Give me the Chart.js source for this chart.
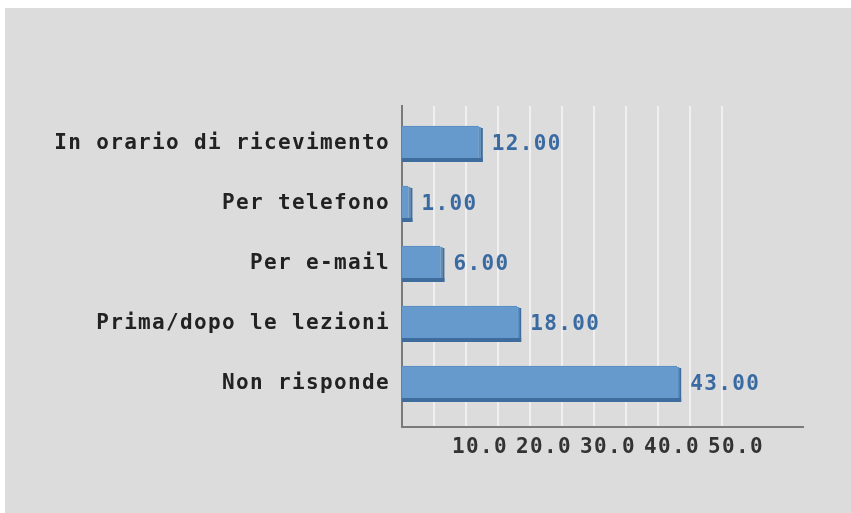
<!DOCTYPE html>
<html>
<head>
<meta charset="utf-8">
<script src="https://cdn.jsdelivr.net/npm/chart.js@4"></script>
<style>
  html, body { margin: 0; padding: 0; background: #ffffff; }
  #bg { position: absolute; left: 5px; top: 8px; right: 0; bottom: 0; background: #dcdcdc; }
  #wrap { position: absolute; left: 0; top: 0; width: 851px; height: 513px; }
</style>
</head>
<body>
<div id="bg"></div>
<div id="wrap"><canvas id="c" width="851" height="513"></canvas></div>
<script>
const categories = ["In orario di ricevimento", "Per telefono", "Per e-mail", "Prima/dopo le lezioni", "Non risponde"];
const values = [12, 1, 6, 18, 43];
const xTickValues = [5, 10, 15, 20, 25, 30, 35, 40, 45, 50];
const xLabelValues = [10, 20, 30, 40, 50];

const FONT = { family: "'DejaVu Sans Mono', 'Liberation Mono', monospace", size: 21, weight: 'bold' };
const SPACING = '1.35px';

const spacingPlugin = {
  id: 'spacing',
  beforeLayout(chart) { chart.ctx.letterSpacing = SPACING; },
  beforeDraw(chart) { chart.ctx.letterSpacing = SPACING; }
};

const depthPlugin = {
  id: 'depth',
  afterDatasetsDraw(chart) {
    const ctx = chart.ctx;
    const meta = chart.getDatasetMeta(0);
    ctx.save();
    ctx.letterSpacing = SPACING;
    meta.data.forEach((bar, i) => {
      const p = bar.getProps(['x', 'y', 'base', 'height'], true);
      const top = p.y - p.height / 2;
      const bottom = p.y + p.height / 2;
      ctx.fillStyle = '#5a8cc0';
      ctx.fillRect(p.x, top + 1, 2, p.height - 1);
      ctx.fillStyle = '#3e6c9c';
      ctx.fillRect(p.x + 2, top + 2, 2, p.height - 2);
      ctx.fillRect(p.base, bottom - 4, p.x - p.base + 4, 4);
      ctx.fillStyle = '#3a6aa2';
      ctx.font = `${FONT.weight} ${FONT.size}px ${FONT.family}`;
      ctx.textAlign = 'left';
      ctx.textBaseline = 'middle';
      ctx.fillText(values[i].toFixed(2), p.x + 13, p.y + 1);
    });
    ctx.restore();
  }
};

new Chart(document.getElementById('c'), {
  type: 'bar',
  data: {
    datasets: [{
      data: values.map((v, i) => ({ x: v, y: i })),
      backgroundColor: '#6699cc',
      borderColor: '#5a8cc0',
      borderWidth: { top: 1, right: 0, bottom: 0, left: 0 },
      borderSkipped: 'start',
      barThickness: 36
    }]
  },
  plugins: [spacingPlugin, depthPlugin],
  options: {
    indexAxis: 'y',
    responsive: false,
    animation: false,
    layout: { padding: { left: 0, right: 48, top: 106, bottom: 0 } },
    plugins: { legend: { display: false }, tooltip: { enabled: false } },
    scales: {
      x: {
        type: 'linear',
        min: 0,
        max: 62.66,
        afterBuildTicks(scale) { scale.ticks = xTickValues.map(v => ({ value: v })); },
        afterFit(scale) { scale.height = 86; },
        grid: { display: true, color: '#f0f0f0', lineWidth: 2, drawTicks: false },
        border: { display: true, color: '#7a7a7a', width: 2 },
        ticks: {
          autoSkip: false,
          maxRotation: 0,
          padding: 8,
          labelOffset: 14,
          color: '#333333',
          font: FONT,
          callback: (v) => xLabelValues.includes(v) ? v.toFixed(1) : ''
        }
      },
      y: {
        type: 'linear',
        offset: false,
        reverse: true,
        min: -0.633,
        max: 4.717,
        afterBuildTicks(scale) { scale.ticks = categories.map((c, i) => ({ value: i })); },
        afterFit(scale) { scale.width = 402; },
        grid: { display: false, drawTicks: false, offset: false },
        border: { display: true, color: '#7a7a7a', width: 2 },
        ticks: {
          autoSkip: false,
          padding: 12,
          color: '#222222',
          font: FONT,
          callback: (v) => categories[v]
        }
      }
    }
  }
});
</script>
</body>
</html>
